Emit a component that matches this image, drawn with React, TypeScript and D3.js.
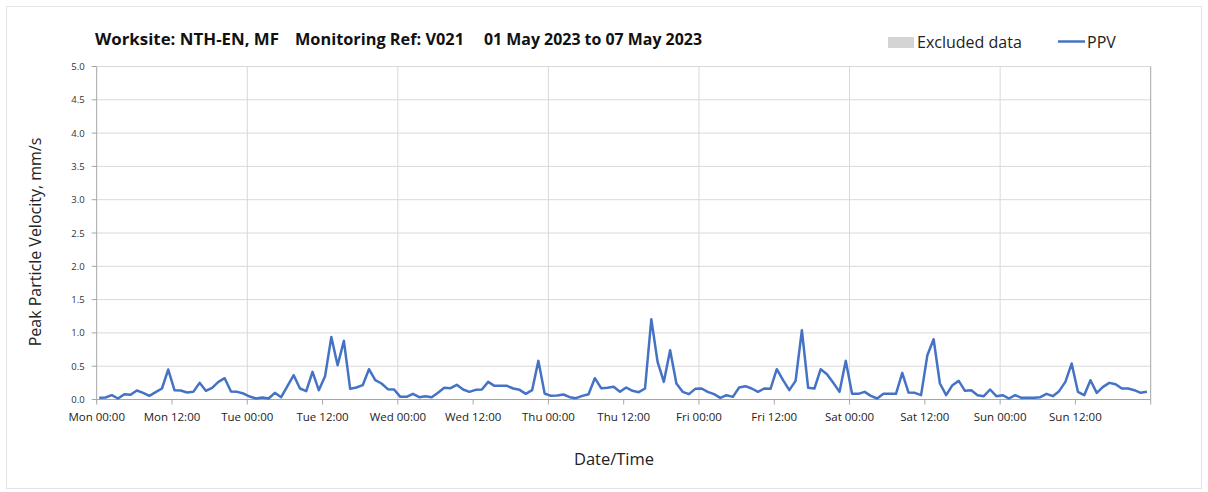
import React from "react";
import * as d3 from "d3";

const xTickLabels = [
  "Mon 00:00", "Mon 12:00", "Tue 00:00", "Tue 12:00", "Wed 00:00", "Wed 12:00",
  "Thu 00:00", "Thu 12:00", "Fri 00:00", "Fri 12:00", "Sat 00:00", "Sat 12:00",
  "Sun 00:00", "Sun 12:00",
];
const yTicks = [0, 0.5, 1, 1.5, 2, 2.5, 3, 3.5, 4, 4.5, 5];

// Hourly PPV (mm/s), one array per day
const ppvMon = [0.025, 0.03, 0.065, 0.015, 0.08, 0.07, 0.135, 0.1, 0.055, 0.11, 0.165, 0.45, 0.14, 0.135, 0.105, 0.115, 0.25, 0.13, 0.175, 0.265, 0.32, 0.12, 0.115, 0.09];
const ppvTue = [0.045, 0.015, 0.03, 0.015, 0.1, 0.035, 0.2, 0.365, 0.165, 0.125, 0.415, 0.14, 0.35, 0.94, 0.515, 0.88, 0.16, 0.18, 0.215, 0.455, 0.29, 0.24, 0.155, 0.15];
const ppvWed = [0.04, 0.04, 0.085, 0.035, 0.05, 0.035, 0.1, 0.175, 0.17, 0.22, 0.15, 0.115, 0.145, 0.15, 0.265, 0.205, 0.205, 0.205, 0.165, 0.145, 0.085, 0.14, 0.58, 0.09];
const ppvThu = [0.055, 0.06, 0.075, 0.035, 0.02, 0.055, 0.08, 0.32, 0.17, 0.175, 0.19, 0.115, 0.18, 0.13, 0.11, 0.165, 1.205, 0.565, 0.265, 0.74, 0.24, 0.115, 0.08, 0.16];
const ppvFri = [0.165, 0.115, 0.08, 0.025, 0.065, 0.04, 0.18, 0.2, 0.165, 0.115, 0.165, 0.16, 0.455, 0.29, 0.14, 0.28, 1.04, 0.175, 0.165, 0.455, 0.38, 0.25, 0.115, 0.58];
const ppvSat = [0.085, 0.085, 0.115, 0.055, 0.015, 0.085, 0.085, 0.085, 0.4, 0.105, 0.1, 0.065, 0.665, 0.905, 0.24, 0.065, 0.215, 0.28, 0.13, 0.14, 0.065, 0.05, 0.15, 0.05];
const ppvSun = [0.065, 0.015, 0.065, 0.025, 0.025, 0.025, 0.035, 0.085, 0.05, 0.125, 0.265, 0.54, 0.115, 0.065, 0.29, 0.1, 0.19, 0.25, 0.23, 0.165, 0.165, 0.14, 0.1, 0.115];

const ppvByDay = [ppvMon, ppvTue, ppvWed, ppvThu, ppvFri, ppvSat, ppvSun];
const sampleOffsetHours = 0.4;

const W = 1208;
const H = 492;
const FONT = "'Open Sans', 'Noto Sans', sans-serif";

export default function App() {
  const x = d3.scaleLinear().domain([0, 168]).range([96.7, 1150.7]);
  const y = d3.scaleLinear().domain([0, 5]).range([399.5, 66.5]);

  const points: [number, number][] = [];
  ppvByDay.forEach((arr, d) =>
    arr.forEach((v, h) => points.push([d * 24 + h + sampleOffsetHours, v]))
  );
  const line = d3
    .line<[number, number]>()
    .x((p) => x(p[0]))
    .y((p) => y(p[1]));

  const tickHours = xTickLabels.map((_, i) => i * 12);
  const dayHours = d3.range(1, 7).map((d) => d * 24);

  return (
    <svg width={W} height={H} style={{ position: "absolute", left: 0, top: 0, background: "#fff" }}>
      <rect x={6.5} y={6.5} width={1195} height={482} fill="#fff" stroke="#e3e3e3" />
      {/* title */}
      <g fontFamily={FONT} fontWeight="bold" fontSize={16} fill="#111">
        <text x={95} y={45} textLength={184} lengthAdjust="spacingAndGlyphs">Worksite: NTH-EN, MF</text>
        <text x={295} y={45} textLength={169} lengthAdjust="spacingAndGlyphs">Monitoring Ref: V021</text>
        <text x={484} y={45} textLength={218} lengthAdjust="spacingAndGlyphs">01 May 2023 to 07 May 2023</text>
      </g>
      {/* legend */}
      <rect x={888} y={37} width={26} height={11} fill="#d4d4d4" />
      <text x={917} y={48} fontFamily={FONT} fontSize={16} fill="#222">Excluded data</text>
      <line x1={1058} x2={1085} y1={41.5} y2={41.5} stroke="#4472C4" strokeWidth={2.5} />
      <text x={1087} y={48} fontFamily={FONT} fontSize={16} fill="#222">PPV</text>

      {/* gridlines */}
      {yTicks.map((t) => (
        <line key={"gy" + t} x1={x(0)} x2={x(168)} y1={y(t)} y2={y(t)} stroke="#d9d9d9" strokeWidth={1} />
      ))}
      {dayHours.map((h) => (
        <line key={"gx" + h} x1={x(h)} x2={x(h)} y1={y(0)} y2={y(5)} stroke="#d9d9d9" strokeWidth={1} />
      ))}
      {/* frame */}
      <line x1={x(168)} x2={x(168)} y1={y(0)} y2={y(5)} stroke="#a6a6a6" />
      <line x1={x(0)} x2={x(0)} y1={y(0) + 1} y2={y(5)} stroke="#a6a6a6" />
      <line x1={x(0)} x2={x(168)} y1={y(0)} y2={y(0)} stroke="#a6a6a6" />

      {/* y ticks */}
      {yTicks.map((t) => (
        <g key={"yt" + t}>
          <line x1={x(0) - 5} x2={x(0)} y1={y(t)} y2={y(t)} stroke="#a6a6a6" />
          <text x={x(0) - 12} y={y(t) + 3.5} textAnchor="end" fontFamily={FONT} fontSize={9.5} fill="#333">
            {t.toFixed(1)}
          </text>
        </g>
      ))}
      {/* x ticks */}
      {tickHours.map((h, i) => (
        <g key={"xt" + h}>
          <line x1={x(h)} x2={x(h)} y1={y(0)} y2={y(0) + 5} stroke="#a6a6a6" />
          <text x={x(h)} y={421} textAnchor="middle" fontFamily={FONT} fontSize={11.5} fill="#222">
            {xTickLabels[i]}
          </text>
        </g>
      ))}
      <line x1={x(168)} x2={x(168)} y1={y(0)} y2={y(0) + 5} stroke="#a6a6a6" />

      {/* data */}
      <path d={line(points) || ""} fill="none" stroke="#4472C4" strokeWidth={2.5} strokeLinejoin="round" />

      {/* axis titles */}
      <text
        transform={`translate(41,242) rotate(-90)`}
        textAnchor="middle"
        fontFamily={FONT}
        fontSize={16}
        fill="#222"
      >
        Peak Particle Velocity, mm/s
      </text>
      <text x={614} y={465} textAnchor="middle" fontFamily={FONT} fontSize={16.5} fill="#222">
        Date/Time
      </text>
    </svg>
  );
}
